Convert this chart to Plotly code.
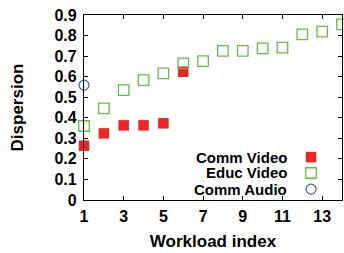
import plotly.graph_objects as go

# Data
comm_video_x = [1, 2, 3, 4, 5, 6]
comm_video_y = [0.264, 0.324, 0.363, 0.363, 0.373, 0.624]
educ_video_x = [1, 2, 3, 4, 5, 6, 7, 8, 9, 10, 11, 12, 13, 14]
educ_video_y = [0.36, 0.446, 0.535, 0.583, 0.616, 0.665, 0.676, 0.725, 0.725, 0.738, 0.741, 0.806, 0.819, 0.854]
comm_audio_x = [1]
comm_audio_y = [0.559]
series_names = ["Comm Video", "Educ Video", "Comm Audio"]
y_ticks = [0, 0.1, 0.2, 0.3, 0.4, 0.5, 0.6, 0.7, 0.8, 0.9]
y_tick_labels = ["0", "0.1", "0.2", "0.3", "0.4", "0.5", "0.6", "0.7", "0.8", "0.9"]

RED = "#ee2424"
GREEN = "#66bb44"
BLUE = "#3a5bb0"
FONT = "Liberation Sans"

fig = go.Figure()
fig.add_trace(go.Scatter(x=comm_video_x, y=comm_video_y, mode="markers", name=series_names[0],
                         marker=dict(symbol="square", size=10.5, color=RED), cliponaxis=False))
fig.add_trace(go.Scatter(x=educ_video_x, y=educ_video_y, mode="markers", name=series_names[1],
                         marker=dict(symbol="square-open", size=10.5, color=GREEN, line=dict(width=1.3)), cliponaxis=False))
fig.add_trace(go.Scatter(x=comm_audio_x, y=comm_audio_y, mode="markers", name=series_names[2],
                         marker=dict(symbol="circle-open", size=10, color=BLUE, line=dict(width=1.2)), cliponaxis=False))

# gnuplot-style legend keys (symbol right of text) on an overlay axis
key_x = 0.88
key_ys = [0.232, 0.146, 0.059]
key_styles = [dict(symbol="square", size=10.5, color=RED),
              dict(symbol="square-open", size=10.5, color=GREEN, line=dict(width=1.3)),
              dict(symbol="circle-open", size=10, color=BLUE, line=dict(width=1.2))]
for name, ky, st in zip(series_names, key_ys, key_styles):
    fig.add_trace(go.Scatter(x=[key_x], y=[ky], mode="markers", marker=st, xaxis="x2", yaxis="y2",
                             showlegend=False, hoverinfo="skip", cliponaxis=False))
    fig.add_annotation(x=0.795, y=ky, xref="x2", yref="y2", text=name, showarrow=False,
                       xanchor="right", yanchor="middle",
                       font=dict(family=FONT, size=15, color="black", weight="bold"))

axis_common = dict(showline=True, linecolor="black", linewidth=1.2, mirror="ticks",
                   ticks="inside", ticklen=4, tickcolor="black", showgrid=False, zeroline=False,
                   automargin=False,
                   tickfont=dict(family=FONT, size=16, color="black", weight="bold"))

fig.update_layout(
    width=344, height=253,
    margin=dict(l=84, r=2, t=15, b=53),
    plot_bgcolor="white", paper_bgcolor="white",
    showlegend=False,
    xaxis=dict(range=[1, 14], tick0=1, dtick=2, ticklabelstandoff=2, **axis_common,
               title=dict(text="Workload index", standoff=10,
                          font=dict(family=FONT, size=17, color="black", weight="bold"))),
    yaxis=dict(range=[0, 0.9], tickvals=y_ticks, ticktext=y_tick_labels, ticklabelstandoff=3,
               **axis_common,
               title=dict(text="Dispersion", standoff=26,
                          font=dict(family=FONT, size=17, color="black", weight="bold"))),
    xaxis2=dict(overlaying="x", range=[0, 1], visible=False),
    yaxis2=dict(overlaying="y", range=[0, 1], visible=False),
)

fig.write_html("out.html", config={"displayModeBar": False},
               post_script="document.body.style.margin='0';document.body.style.overflow='hidden';")
